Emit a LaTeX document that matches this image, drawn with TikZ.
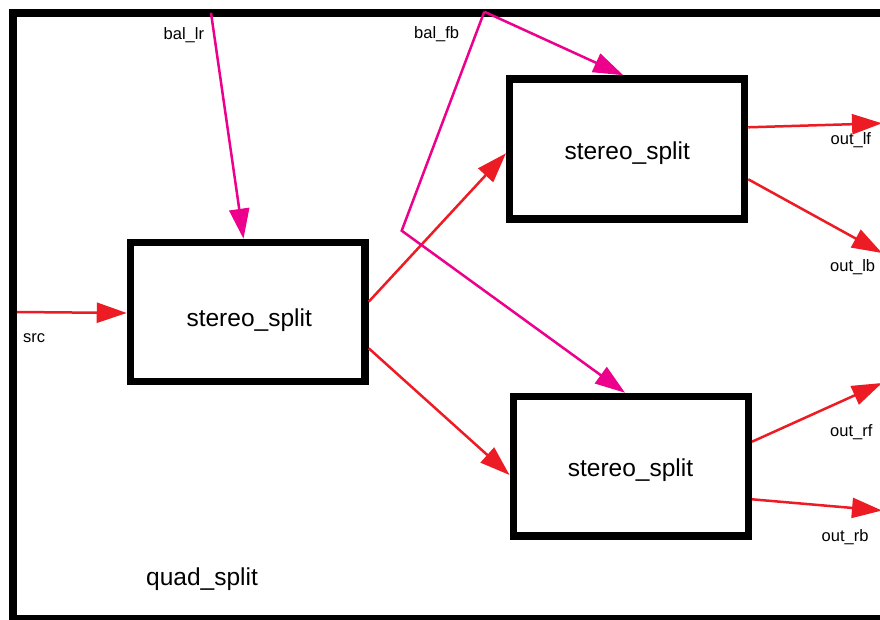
\documentclass[tikz,border=0pt]{standalone}
\usepackage{fontspec}
\setmainfont{Liberation Sans}
\usetikzlibrary{arrows.meta}
\definecolor{wirered}{HTML}{ED1C24}
\definecolor{wirepink}{HTML}{EC008C}
\tikzset{
  block/.style={draw=black, line width=7.5pt, fill=white, rectangle, inner sep=0pt},
  blocktext/.style={anchor=base, inner sep=0pt, font=\fontsize{24.5}{28}\selectfont},
  portlabel/.style={anchor=base west, inner sep=0pt, font=\fontsize{16.5}{20}\selectfont},
  sigwire/.style={draw=wirered, line width=2.5pt, -{Triangle[length=30pt,width=20pt]}},
  ctlwire/.style={draw=wirepink, line width=2.5pt, line join=miter},
  ctlarrow/.style={ctlwire, -{Triangle[length=30pt,width=20pt]}}
}
\begin{document}
\begin{tikzpicture}[x=1pt,y=-1pt]
  \useasboundingbox (0,0) rectangle (880,620);
  \clip (0,0) rectangle (880,620);
  \fill[white] (0,0) rectangle (880,620);

  % enclosing quad_split block
  \draw[line width=8pt] (13,12.8) rectangle (892,618.5);
  \node[anchor=base west, inner sep=0pt, font=\fontsize{24.5}{28}\selectfont] (title) at (146,585) {quad\_split};

  % the three stereo_split blocks
  \node[block, minimum width=234.5pt, minimum height=139.2pt] (b1) at (247.75,312.1) {};
  \node[block, minimum width=234.8pt, minimum height=140pt] (b2) at (627.1,149) {};
  \node[block, minimum width=235pt, minimum height=139.5pt] (b3) at (630.8,466.25) {};
  \node[blocktext] (t1) at (249.2,326.5) {stereo\_split};
  \node[blocktext] (t2) at (627.2,159.3) {stereo\_split};
  \node[blocktext] (t3) at (630.5,476) {stereo\_split};

  % outer ports
  \coordinate (src) at (17,312);
  \coordinate (ballr) at (211,12.8);
  \coordinate (balfb) at (484.3,11.7);
  \coordinate (fbbend) at (401.7,230.7);
  \coordinate (outlf) at (882,123.3);
  \coordinate (outlb) at (882,253);
  \coordinate (outrf) at (882,383);
  \coordinate (outrb) at (882,510.5);

  % port labels
  \node[portlabel] (lsrc) at (23,342.5) {src};
  \node[portlabel] (llr) at (163.5,39.5) {bal\_lr};
  \node[portlabel] (lfb) at (414,38.5) {bal\_fb};
  \node[portlabel] (llf) at (830.5,145) {out\_lf};
  \node[portlabel] (llb) at (830,271.5) {out\_lb};
  \node[portlabel] (lrf) at (830,436) {out\_rf};
  \node[portlabel] (lrb) at (821.5,541.5) {out\_rb};

  % audio signal paths
  \draw[sigwire] (src) -- (b1.west |- 0,313);
  \draw[sigwire] (b1.east |- 0,301.7) -- (b2.west |- 0,153.3);
  \draw[sigwire] (b1.east |- 0,348.3) -- (b3.west |- 0,475);
  \draw[sigwire] (b2.east |- 0,127.3) -- (outlf);
  \draw[sigwire] (b2.east |- 0,179.3) -- (outlb);
  \draw[sigwire] (b3.east |- 0,441.7) -- (outrf);
  \draw[sigwire] (b3.east |- 0,499.3) -- (outrb);

  % balance controls
  \draw[ctlarrow] (ballr) -- (243.5,0 |- b1.north);
  \draw[ctlarrow] (balfb) -- (623.3,0 |- b2.north);
  \draw[ctlarrow] (balfb) -- (fbbend) -- (625,0 |- b3.north);
\end{tikzpicture}
\end{document}
